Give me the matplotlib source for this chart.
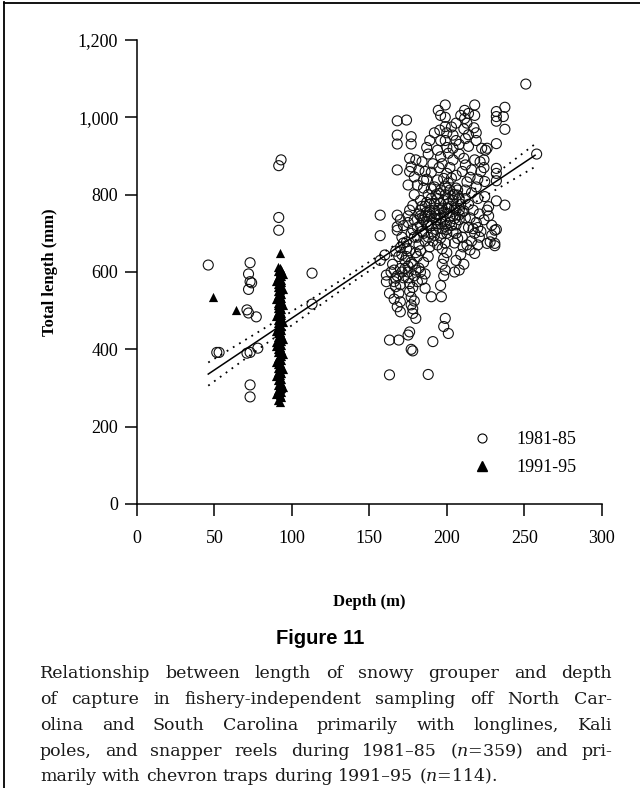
import matplotlib
matplotlib.use("Agg")
import matplotlib.pyplot as plt
from matplotlib.lines import Line2D

plt.rcParams["mathtext.fontset"] = "dejavuserif"

# ---------------- data ----------------
# 1981-85 (open circles): depth (m) and total length (mm), grouped by area of the plot
lon_depth_shelf = [46, 51.5, 53, 73, 72, 73, 74, 72, 71, 72, 77, 71, 73, 78, 73, 73, 91.5, 93, 91.5, 91.5, 113, 113]
lon_length_shelf = [618, 392, 392, 624, 595, 575, 572, 555, 502, 494, 484, 390, 392, 403, 308, 277, 875, 890, 741, 708, 597, 517]

lon_depth_a = [157, 157, 160, 157]
lon_length_a = [747, 694, 644, 630]

lon_depth_b = [168, 168, 168, 168, 168, 168, 168, 167, 170, 166, 170, 161, 161, 167, 167, 163, 170, 170, 170, 163, 169, 163, 165, 169, 164, 166, 169, 168]
lon_length_b = [991, 954, 931, 864, 747, 717, 708, 654, 663, 605, 609, 592, 575, 584, 562, 545, 567, 523, 497, 424, 424, 334, 620, 640, 600, 530, 545, 510]

lon_depth_c = [174, 177, 177, 176, 177, 176, 179, 175, 179, 178, 175, 175, 174, 176, 173, 175, 175, 176, 176, 177, 177, 178, 180, 175, 177, 178, 176, 178, 179, 174, 177, 176, 179]
lon_length_c = [993, 950, 931, 894, 872, 860, 846, 825, 800, 772, 745, 728, 678, 655, 609, 600, 585, 570, 550, 535, 515, 493, 480, 437, 400, 396, 445, 505, 525, 640, 700, 760, 690]

lon_depth_d = [180, 184, 182, 186, 190, 187, 187, 185, 181, 185, 188, 183, 186, 189, 182, 185, 188, 184, 181, 186, 189, 183, 181, 185, 182, 186, 184, 186, 190, 191, 188, 183, 188, 190, 188, 183, 187, 190]
lon_length_d = [890, 885, 864, 860, 858, 922, 840, 837, 825, 817, 800, 785, 770, 760, 750, 735, 720, 705, 690, 680, 665, 655, 640, 625, 610, 595, 580, 558, 536, 420, 335, 600, 640, 700, 745, 720, 780, 815]

lon_depth_e = [194.5, 199, 196, 199, 195.5, 199, 200, 196, 199, 200, 194, 196, 201, 194, 200, 200, 195, 198, 196, 192, 201, 197, 200, 193, 196, 199, 202, 194, 197, 200, 192, 196, 199, 197, 200, 198, 197, 199, 198, 196, 196.5, 199, 198, 201, 192, 195, 201, 194, 199, 201, 192, 198, 202, 197]
lon_length_e = [1018, 1032, 1005, 1000, 967, 976, 960, 940, 940, 922, 915, 898, 907, 838, 855, 817, 803, 785, 777, 777, 777, 765, 752, 750, 740, 730, 745, 725, 712, 700, 695, 688, 675, 660, 650, 635, 620, 605, 590, 565, 536, 480, 459, 441, 740, 760, 765, 790, 800, 830, 820, 842, 870, 880]

lon_depth_f = [204, 211.5, 211.5, 211, 212, 204, 211, 212, 203, 213, 206, 212, 207, 204, 209, 205, 210, 204, 208, 206, 211, 204, 207, 210.5, 205, 209, 206, 211, 208, 205, 210, 212, 208, 206, 210, 204, 208, 206, 212]
lon_length_f = [954, 1018, 997, 970, 945, 890, 894, 877, 843, 833, 817, 812, 799, 785, 775, 765, 755, 745, 735, 722, 715, 705, 687, 665, 675, 645, 630, 620, 605, 600, 690, 740, 760, 850, 860, 920, 930, 700, 790]

lon_depth_g = [218, 218, 217.5, 218, 216, 222.5, 221.5, 215, 218, 215, 219, 216, 220, 214, 217, 221, 215, 219, 214, 218, 221, 216, 213, 220, 219, 214, 222, 220]
lon_length_g = [1032, 1005, 973, 890, 864, 920, 885, 657, 648, 845, 820, 805, 790, 775, 760, 750, 740, 728, 715, 700, 690, 680, 670, 670, 940, 955, 860, 840]

lon_depth_h = [237.5, 232, 232, 232, 236.5, 237.5, 232, 226, 225, 232, 232, 232, 224.5, 224.5, 232, 237.5, 227, 229, 232, 231, 228, 231, 231, 226, 224, 226, 224, 251, 258]
lon_length_h = [1026, 1015, 1002, 990, 1002, 969, 932, 920, 915, 868, 855, 836, 834, 795, 784, 773, 769, 721, 710, 708, 678, 674, 668, 674, 890, 760, 870, 1086, 905]

lon_depth_core = [184, 187, 190, 193, 196, 199, 202, 205, 208, 211, 190, 193, 196, 199, 202, 205, 208, 185, 188, 191, 194, 197, 200, 203, 206, 192, 189, 183, 186, 195, 198, 201, 204, 207, 203, 200, 193, 190, 187, 184]
lon_length_core = [770, 755, 745, 735, 725, 718, 728, 738, 748, 758, 790, 800, 812, 822, 812, 800, 790, 700, 690, 680, 670, 700, 710, 720, 760, 760, 775, 760, 745, 748, 755, 790, 800, 812, 770, 765, 710, 720, 730, 740]

lon_depth_mid = [171, 172, 174, 171, 173, 178, 180, 179, 181, 178, 172, 171, 180, 182, 178, 172, 170, 181, 179, 183, 166, 168, 175, 177]
lon_length_mid = [690, 675, 660, 645, 630, 620, 605, 590, 575, 560, 585, 600, 650, 670, 710, 720, 735, 715, 735, 745, 575, 590, 615, 625]

lon_depth_up = [188, 191, 195, 203, 206, 209, 214, 213, 206, 208, 214, 219, 192, 189, 217, 222, 224, 227, 229, 220]
lon_length_up = [905, 880, 870, 975, 985, 1005, 1010, 985, 940, 905, 925, 960, 960, 940, 712, 705, 735, 745, 695, 715]

# 1991-95 (filled triangles, chevron traps)
trap_col_depth = [92, 91, 93, 92, 90, 93, 91, 92, 94, 92,
                  91, 93, 92, 91, 93, 92, 90, 92, 93, 91,
                  92, 94, 91, 92, 93, 91, 92, 90, 93, 92,
                  91, 93, 92, 94, 91, 92, 93, 91, 92, 90,
                  93, 92, 91, 93, 92, 94, 91, 92, 93, 91,
                  92, 90, 93, 92, 91, 93, 92, 91, 94, 92,
                  91, 93, 92, 90, 92, 93, 91, 92, 93, 91,
                  92, 94, 92, 91, 93, 92, 90, 93, 92, 91,
                  93, 92, 91, 92, 94, 91, 93, 92, 91, 92,
                  90, 93, 92, 91, 93, 92, 94, 92, 91, 93,
                  92, 91, 93, 92, 90, 92, 93, 91, 92, 93, 92]
trap_col_length = [265, 270, 276, 281, 285, 290, 294, 298, 302, 305,
                   309, 313, 316, 320, 324, 327, 331, 334, 338, 341,
                   345, 348, 351, 355, 358, 362, 365, 368, 372, 375,
                   378, 382, 385, 388, 392, 395, 398, 402, 405, 408,
                   411, 415, 418, 421, 425, 428, 431, 435, 438, 441,
                   444, 448, 451, 454, 458, 461, 464, 468, 471, 474,
                   477, 481, 484, 487, 491, 494, 497, 500, 504, 507,
                   510, 514, 517, 520, 524, 527, 530, 533, 537, 540,
                   543, 547, 550, 553, 557, 560, 563, 566, 570, 573,
                   576, 580, 583, 586, 590, 593, 596, 600, 603, 606,
                   610, 612, 300, 360, 420, 455, 490, 515, 545, 575, 598]
trap_out_depth = [49, 64, 92.5]
trap_out_length = [536, 502, 648]

# regression line and dotted confidence limits
fit_depth = [46, 257]
fit_length = [336, 902]
ci_depth = [46, 80, 110, 140, 170, 200, 230, 257]
ci_upper = [366, 449, 523, 600, 679, 763, 849, 931]
ci_lower = [306, 405, 491, 576, 657, 735, 809, 872]

x_ticks = [0, 50, 100, 150, 200, 250, 300]
y_ticks = [0, 200, 400, 600, 800, 1000, 1200]
y_ticklabels = ["0", "200", "400", "600", "800", "1,000", "1,200"]
legend_labels = ["1981-85", "1991-95"]

caption_title = "Figure 11"
caption_lines = [
    "Relationship between length of snowy grouper and depth",
    "of capture in fishery-independent sampling off North Car-",
    "olina and South Carolina primarily with longlines, Kali",
    "poles, and snapper reels during 1981\u201385 ($n$=359) and pri-",
    "marily with chevron traps during 1991\u201395 ($n$=114).",
]

lon_depth = (lon_depth_shelf + lon_depth_a + lon_depth_b + lon_depth_c + lon_depth_d + lon_depth_e
             + lon_depth_f + lon_depth_g + lon_depth_h + lon_depth_core + lon_depth_mid + lon_depth_up)
lon_length = (lon_length_shelf + lon_length_a + lon_length_b + lon_length_c + lon_length_d + lon_length_e
              + lon_length_f + lon_length_g + lon_length_h + lon_length_core + lon_length_mid + lon_length_up)
trap_depth = trap_col_depth + trap_out_depth
trap_length = trap_col_length + trap_out_length

# ---------------- figure ----------------
W, H = 640, 788
fig = plt.figure(figsize=(W / 100, H / 100), dpi=100)
ax = fig.add_axes([137 / W, 1 - 504 / H, 464.7 / W, 464 / H])

serif = "Liberation Serif"

ax.scatter(trap_depth, trap_length, marker="^", s=44, color="black", linewidths=0, zorder=2)
ax.scatter(lon_depth, lon_length, marker="o", s=52, facecolors="none", edgecolors="#111111",
           linewidths=0.8, zorder=3)
ax.plot(fit_depth, fit_length, color="black", lw=1.1, zorder=4)
ax.plot(ci_depth, ci_upper, color="black", lw=1.3, ls=(0, (1, 3)), zorder=4)
ax.plot(ci_depth, ci_lower, color="black", lw=1.3, ls=(0, (1, 3)), zorder=4)

ax.set_xlim(0, 300)
ax.set_ylim(0, 1200)
ax.set_xticks(x_ticks)
ax.set_yticks(y_ticks)
ax.set_yticklabels(y_ticklabels)
for s in ["top", "right"]:
    ax.spines[s].set_visible(False)
for s in ["left", "bottom"]:
    ax.spines[s].set_linewidth(1.1)
ax.tick_params(axis="both", direction="out", length=8.5, width=1.1, labelsize=13)
ax.tick_params(axis="y", pad=5)
ax.tick_params(axis="x", pad=10)
for lab in ax.get_xticklabels() + ax.get_yticklabels():
    lab.set_family(serif)

ax.set_xlabel("Depth (m)", family=serif, fontsize=12, fontweight="bold")
ax.set_ylabel("Total length (mm)", family=serif, fontsize=12, fontweight="bold")
ax.xaxis.set_label_coords(0.5, (504 - 594) / 464)
ax.yaxis.set_label_coords((58 - 137) / 464.7, 0.5)

handles = [
    Line2D([], [], marker="o", ls="none", markersize=6.5, markerfacecolor="none",
           markeredgecolor="black", markeredgewidth=0.8),
    Line2D([], [], marker="^", ls="none", markersize=7, color="black"),
]
leg = ax.legend(handles, legend_labels, loc="upper left",
                bbox_to_anchor=((471 - 137) / 464.7, (504 - 431) / 464),
                frameon=False, borderpad=0, borderaxespad=0, handlelength=1.2,
                handletextpad=1.3, labelspacing=0.6, prop={"family": serif, "size": 13})

# frame lines of the page
fig.add_artist(Line2D([3.5 / W, 3.5 / W], [0, 1 - 2 / H], color="black", lw=1.3))
fig.add_artist(Line2D([3.5 / W, 1], [1 - 2.5 / H, 1 - 2.5 / H], color="black", lw=1.3))

# caption
fig.text(0.5, 1 - 639 / H, caption_title, ha="center", va="center", fontsize=14.5,
         fontweight="bold", family=["Liberation Sans Narrow", "Liberation Sans"])

cap_font = "DejaVu Serif"
cap_size = 12.5
x0, x1 = 40 / W, 612 / W
baselines = [678, 704, 730, 756, 781]
fig.canvas.draw()
rend = fig.canvas.get_renderer()
for i, line in enumerate(caption_lines):
    yb = 1 - baselines[i] / H
    words = line.split(" ")
    texts = [fig.text(0, yb, w, fontsize=cap_size, family=cap_font, va="baseline", ha="left",
                      color="#1a1a1a") for w in words]
    widths = [t.get_window_extent(rend).width / W for t in texts]
    if i < len(caption_lines) - 1:
        gap = (x1 - x0 - sum(widths)) / (len(words) - 1)
    else:
        gap = cap_size * 100 / 72 * 0.32 / W
    x = x0
    for t, wdt in zip(texts, widths):
        t.set_x(x)
        x += wdt + gap

fig.savefig("out.png", dpi=100)
